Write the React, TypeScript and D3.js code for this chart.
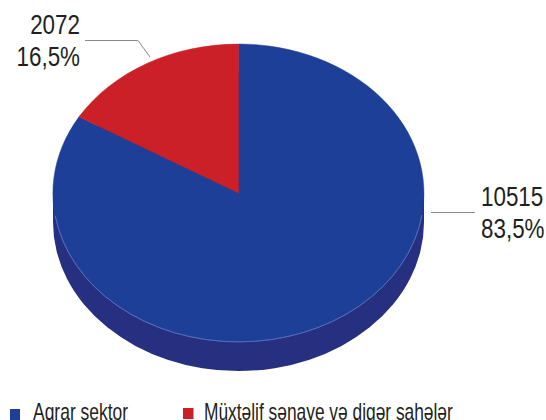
import React from "react";
import * as d3 from "d3";

const categories = ["Aqrar sektor", "Müxtəlif sənaye və digər sahələr"];
const values = [10515, 2072];
const valueLabels = ["10515", "2072"];
const percentLabels = ["83,5%", "16,5%"];
const colors = ["#1d3f97", "#cb2027"];
const sideColor = "#262f80";

const W = 546, H = 420;
const cx = 238.5, cy = 193, rx = 185.5, ry = 149, depth = 29;
const font = "'Liberation Sans', Arial, sans-serif";

function T(p: { x: number; y: number; k: number; anchor?: string; children: React.ReactNode }) {
  return (
    <text transform={`translate(${p.x},${p.y}) scale(${p.k},1)`} textAnchor={p.anchor ?? "start"}>
      {p.children}
    </text>
  );
}

export default function App() {
  const pie = d3.pie<number>().sort(null).value((d) => d);
  const arcs = pie(values);
  const arc = d3.arc<d3.PieArcDatum<number>>().innerRadius(0).outerRadius(1);
  const sx = d3.scaleLinear().domain([-1, 1]).range([cx - rx, cx + rx]);
  const full = d3.arc()({ innerRadius: 0, outerRadius: 1, startAngle: 0, endAngle: 2 * Math.PI }) as string;
  const rim = d3.arc()({ innerRadius: 1, outerRadius: 1, startAngle: 1.72, endAngle: 4.56 }) as string;
  return (
    <svg width={W} height={H} viewBox={`0 0 ${W} ${H}`} style={{ position: "absolute", left: 0, top: 0, fontFamily: font }}>
      <g transform={`translate(${cx},${cy + depth}) scale(${rx},${ry})`}>
        <path d={full} fill={sideColor} />
      </g>
      <rect x={sx(-1)} y={cy} width={sx(1) - sx(-1)} height={depth} fill={sideColor} />
      <g transform={`translate(${cx},${cy}) scale(${rx},${ry})`}>
        {arcs.map((a, i) => (
          <path key={i} d={arc(a) as string} fill={colors[i]} stroke={colors[i]} strokeWidth={0.5} vectorEffect="non-scaling-stroke" />
        ))}
        <path d={rim} fill="none" stroke="#5a70b8" strokeWidth={0.7} vectorEffect="non-scaling-stroke" />
      </g>
      <polyline points="85,40.5 138,40.5 150,57" fill="none" stroke="#8a8a8a" strokeWidth={1} />
      <line x1={431} x2={475} y1={212.5} y2={212.5} stroke="#8a8a8a" strokeWidth={1} />
      <g fill="#231f20" fontSize={27}>
        <T x={80} y={34} k={0.83} anchor="end">{valueLabels[1]}</T>
        <T x={80} y={66} k={0.83} anchor="end">{percentLabels[1]}</T>
        <T x={481} y={206} k={0.83}>{valueLabels[0]}</T>
        <T x={481} y={238} k={0.83}>{percentLabels[0]}</T>
      </g>
      <rect x={10} y={409} width={10} height={11} fill={colors[0]} />
      <rect x={183} y={408} width={10.5} height={11} fill={colors[1]} />
      <g fill="#231f20" fontSize={23}>
        <T x={33} y={420} k={0.76}>{categories[0]}</T>
        <T x={204} y={420} k={0.755}>{categories[1]}</T>
      </g>
    </svg>
  );
}
